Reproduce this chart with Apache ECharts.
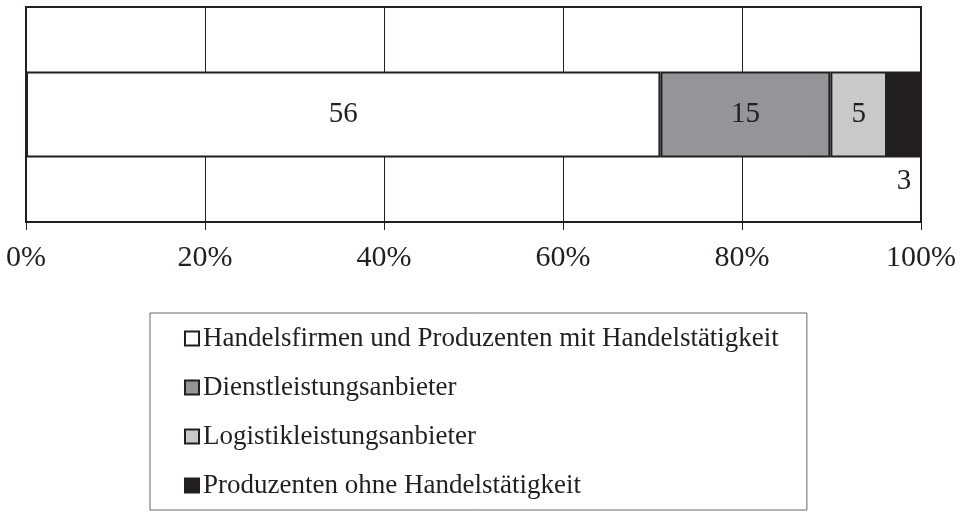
<!DOCTYPE html>
<html>
<head>
<meta charset="utf-8">
<script src="https://cdn.jsdelivr.net/npm/echarts@6/dist/echarts.min.js"></script>
<style>
html,body{margin:0;padding:0;background:#fff;}
#chart{width:963px;height:512px;}
</style>
</head>
<body>
<div id="chart"></div>
<script>
// Data
var categories = [''];
var seriesNames = [
  'Handelsfirmen und Produzenten mit Handelstätigkeit',
  'Dienstleistungsanbieter',
  'Logistikleistungsanbieter',
  'Produzenten ohne Handelstätigkeit'
];
var seriesValues = [56, 15, 5, 3];
var tickValues = [0, 20, 40, 60, 80, 100];

var colors = ['#ffffff', '#939598', '#c8c9cb', '#231f20'];
var FONT = "'Liberation Serif', 'Times New Roman', serif";
var total = seriesValues.reduce(function (a, b) { return a + b; }, 0);

var series = seriesNames.map(function (name, i) {
  var isLast = i === seriesNames.length - 1;
  return {
    name: name,
    type: 'bar',
    stack: 'total',
    barWidth: 86,
    data: [{ value: seriesValues[i] / total * 100, raw: seriesValues[i] }],
    itemStyle: { color: colors[i], borderColor: '#231f20', borderWidth: 2 },
    label: {
      show: true,
      position: isLast ? 'bottom' : 'inside',
      distance: 9,
      fontFamily: FONT,
      fontSize: 29,
      color: '#231f20',
      formatter: function (p) { return p.data.raw; }
    },
    emphasis: { disabled: true }
  };
});

var chart = echarts.init(document.getElementById('chart'), null, { renderer: 'canvas' });
chart.setOption({
  animation: false,
  backgroundColor: '#ffffff',
  grid: {
    left: 26, right: 42, top: 7, bottom: 290,
    show: true, borderColor: '#231f20', borderWidth: 2, backgroundColor: 'transparent'
  },
  xAxis: {
    type: 'value',
    min: tickValues[0],
    max: tickValues[tickValues.length - 1],
    interval: tickValues[1] - tickValues[0],
    axisLine: { show: true, lineStyle: { color: '#231f20', width: 2 } },
    axisTick: { show: true, length: 8, lineStyle: { color: '#231f20', width: 1 } },
    axisLabel: {
      formatter: '{value}%',
      fontFamily: FONT, fontSize: 30, color: '#231f20', margin: 21
    },
    splitLine: { show: true, lineStyle: { color: '#231f20', width: 1 } }
  },
  yAxis: {
    type: 'category',
    data: categories,
    axisLine: { show: true, lineStyle: { color: '#231f20', width: 2 } },
    axisTick: { show: false },
    axisLabel: { show: false },
    splitLine: { show: false }
  },
  legend: {
    orient: 'vertical',
    left: 150,
    top: 313,
    padding: [12, 28, 11, 34],
    borderColor: '#666666',
    borderWidth: 1,
    itemWidth: 14,
    itemHeight: 14,
    itemGap: 22,
    icon: 'rect',
    selectedMode: false,
    data: seriesNames,
    textStyle: { fontFamily: FONT, fontSize: 27, lineHeight: 27, color: '#231f20', padding: [0, 0, 0, -1] }
  },
  series: series
});
</script>
</body>
</html>
